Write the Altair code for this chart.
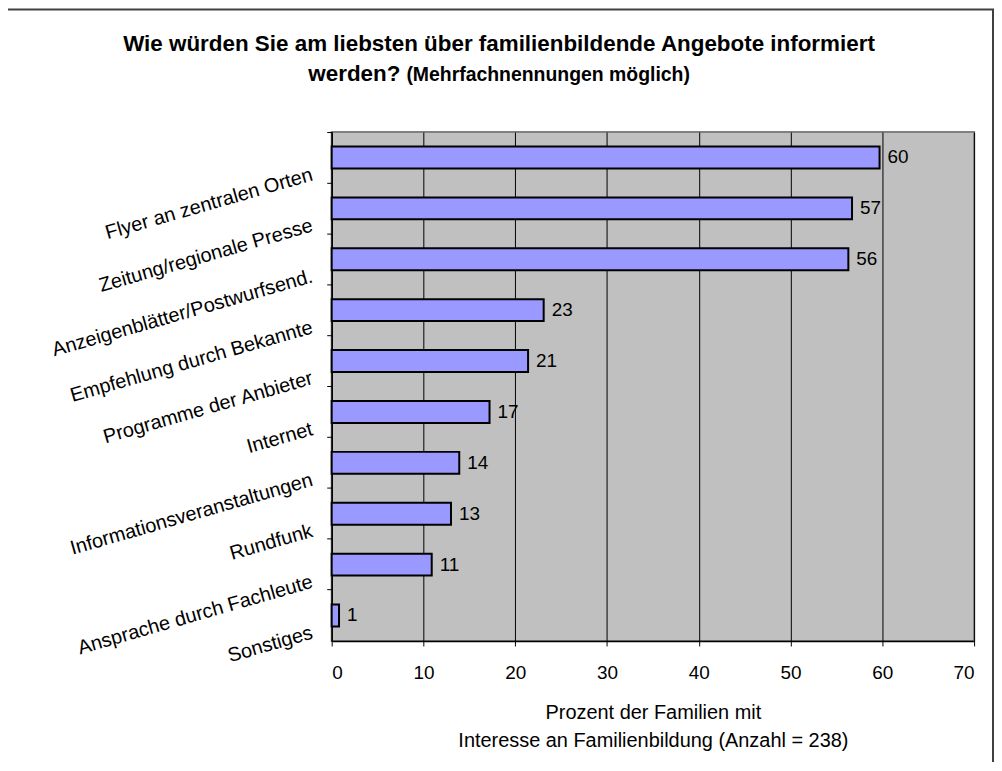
import altair as alt
import pandas as pd

categories = [
    "Flyer an zentralen Orten",
    "Zeitung/regionale Presse",
    "Anzeigenblätter/Postwurfsend.",
    "Empfehlung durch Bekannte",
    "Programme der Anbieter",
    "Internet",
    "Informationsveranstaltungen",
    "Rundfunk",
    "Ansprache durch Fachleute",
    "Sonstiges",
]
percent = [59.7, 56.7, 56.3, 23.1, 21.4, 17.2, 13.9, 13.0, 10.9, 0.8]
value_labels = ["60", "57", "56", "23", "21", "17", "14", "13", "11", "1"]
x_ticks = [0, 10, 20, 30, 40, 50, 60, 70]

title_line1 = "Wie würden Sie am liebsten über familienbildende Angebote informiert"
title_line2a = "werden?"
title_line2b = "(Mehrfachnennungen möglich)"
x_title = ["Prozent der Familien mit", "Interesse an Familienbildung (Anzahl = 238)"]

df = pd.DataFrame({"Kategorie": categories, "Prozent": percent, "Label": value_labels})

FONT = "Liberation Sans"

y_enc = alt.Y(
    "Kategorie:N",
    sort=categories,
    scale=alt.Scale(paddingInner=0, paddingOuter=0),
    axis=alt.Axis(
        title=None,
        bandPosition=0,
        labelAngle=344,
        labelAlign="right",
        labelBaseline="middle",
        labelOffset=17,
        labelPadding=15,
        labelFont=FONT,
        labelFontSize=20,
        labelColor="black",
        labelLimit=500,
        tickSize=5,
        tickColor="black",
        tickWidth=1,
        domainColor="black",
        domainWidth=1.5,
        grid=False,
    ),
)

x_enc = alt.X(
    "Prozent:Q",
    scale=alt.Scale(domain=[0, 70], nice=False, zero=True),
    axis=alt.Axis(
        values=x_ticks,
        format="d",
        title=x_title,
        titleFont=FONT,
        titleFontSize=20,
        titleFontWeight="normal",
        titleColor="black",
        titleLineHeight=28,
        titleBaseline="top",
        titleY=62,
        labelFont=FONT,
        labelFontSize=19,
        labelColor="black",
        labelPadding=18,
        labelBaseline="top",
        tickSize=5,
        tickColor="black",
        domainColor="black",
        domainWidth=1.5,
        grid=True,
        gridColor="black",
        gridWidth=1,
        gridOpacity=1,
    ),
)

base = alt.Chart(df).encode(y=y_enc, x=x_enc)

bars = base.mark_bar(size=22, color="#9999FF", stroke="black", strokeWidth=2)

texts = base.mark_text(
    align="left", baseline="middle", dx=8, font=FONT, fontSize=19, color="black"
).encode(text="Label:N")

border = alt.Chart(alt.Data(values=[{"k": 1}])).mark_rect(
    fill="transparent", stroke="#404040", strokeWidth=2
).encode(
    x=alt.value(-326), x2=alt.value(664), y=alt.value(-123), y2=alt.value(700)
)

t1 = alt.Chart(alt.Data(values=[{"t": title_line1}])).mark_text(
    align="center", baseline="alphabetic", font=FONT, fontSize=22.5,
    fontWeight="bold", color="black"
).encode(text="t:N", x=alt.value(168), y=alt.value(-81))

t2a = alt.Chart(alt.Data(values=[{"t": title_line2a}])).mark_text(
    align="right", baseline="alphabetic", font=FONT, fontSize=22.5,
    fontWeight="bold", color="black"
).encode(text="t:N", x=alt.value(69), y=alt.value(-51))

t2b = alt.Chart(alt.Data(values=[{"t": title_line2b}])).mark_text(
    align="left", baseline="alphabetic", font=FONT, fontSize=19.5,
    fontWeight="bold", color="black"
).encode(text="t:N", x=alt.value(75), y=alt.value(-51))

chart = (
    alt.layer(border, t1, t2a, t2b, bars, texts)
    .properties(
        width=645,
        height=511,
        autosize=alt.AutoSizeParams(type="none"),
        padding={"left": 325, "top": 123, "right": 20, "bottom": 120},
    )
    .configure(background="white")
    .configure_view(fill="#C0C0C0", stroke="#808080", strokeWidth=2)
)

chart.save("out.html", embed_options={"renderer": "svg", "actions": False})
